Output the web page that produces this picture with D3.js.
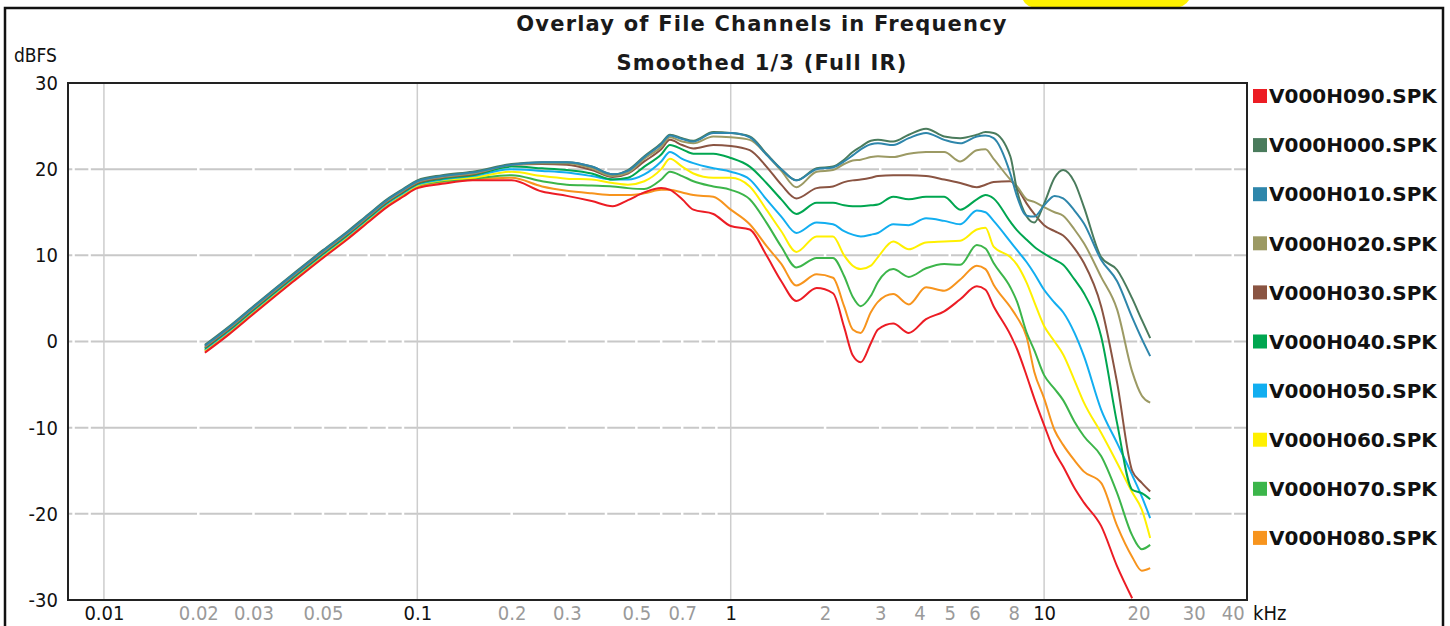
<!DOCTYPE html>
<html><head><meta charset="utf-8">
<script src="https://cdn.jsdelivr.net/npm/d3@7"></script>
<style>
html,body{margin:0;padding:0;background:#fff;}
svg{display:block;}
.narrow{font-family:"Liberation Sans Narrow","Arial Narrow","DejaVu Sans Condensed",sans-serif;}
.boldtxt{font-family:"DejaVu Sans",Verdana,sans-serif;font-weight:bold;}
</style></head><body>
<svg id="chart" width="1450" height="626"></svg>
<script>
// ---------- DATA ----------
const freqKHz = [0.021,0.025,0.03,0.035,0.04,0.05,0.06,0.07,0.08,0.09,
  0.1,0.12,0.15,0.2,0.25,0.3,0.36,0.42,0.47,0.53,
  0.6,0.64,0.7,0.76,0.88,1.0,1.15,1.3,1.45,1.62,
  1.88,2.12,2.3,2.45,2.6,2.8,2.95,3.3,3.7,4.2,
  4.8,5.4,6.1,6.5,6.9,7.8,8.2,8.8,9.3,10,
  10.8,11.5,12.5,13.4,15.2,17.1,19.1,20.5,21.8];

const seriesNames = ["V000H090.SPK","V000H000.SPK","V000H010.SPK","V000H020.SPK","V000H030.SPK",
  "V000H040.SPK","V000H050.SPK","V000H060.SPK","V000H070.SPK","V000H080.SPK"];
const seriesColors = ["#ec1c24","#4a7b5c","#2e86ab","#9c9a64","#8a5442",
  "#00a650","#12aef0","#fff000","#3cb54a","#f7941d"];

const h090 = [-1.3,0.8,3.2,5.2,6.9,9.7,11.9,13.9,15.6,16.8,
  17.8,18.3,18.7,18.7,17.4,16.9,16.3,15.7,16.4,17.3,
  17.8,17.6,16.5,15.3,14.8,13.4,13.0,10.0,7.0,4.7,
  6.2,5.6,1.7,-1.6,-2.4,-0.2,1.4,2.1,1.0,2.6,
  3.5,4.9,6.4,6.0,4.1,0.8,-0.9,-4.0,-6.6,-9.7,
  -12.8,-14.5,-17.0,-18.7,-21.4,-26.1,-29.8,null,null];
const h000 = [-0.4,1.7,4.1,6.1,7.8,10.6,12.8,14.8,16.5,17.7,
  18.7,19.3,19.7,20.6,20.8,20.8,20.3,19.4,19.9,21.5,
  23.0,24.0,23.6,23.3,24.3,24.2,23.8,21.8,20.0,18.7,
  20.1,20.3,21.1,22.0,22.6,23.3,23.4,23.2,24.0,24.7,
  23.8,23.6,24.0,24.3,24.2,21.5,17.5,14.5,13.8,16.0,
  19.0,19.9,18.5,15.6,9.8,8.3,5.0,2.5,0.4];
const h010 = [-0.5,1.6,4.0,6.0,7.7,10.5,12.7,14.7,16.4,17.6,
  18.6,19.2,19.6,20.5,20.8,20.8,20.3,19.4,19.8,21.4,
  22.9,23.9,23.5,23.2,24.2,24.2,23.7,21.7,20.0,18.7,
  20.0,20.2,20.9,21.6,22.3,22.9,23.0,22.8,23.6,24.2,
  23.4,23.0,23.8,23.9,23.6,19.5,16.8,14.6,14.5,15.8,
  16.9,16.6,15.2,13.7,9.5,7.0,2.8,0.3,-1.7];
const h020 = [-0.6,1.5,3.9,5.9,7.6,10.4,12.6,14.6,16.3,17.5,
  18.5,19.1,19.5,20.5,20.7,20.7,20.1,19.2,19.6,21.2,
  22.6,23.7,23.2,23.0,23.8,23.7,23.4,21.7,19.8,17.9,
  19.7,19.9,20.6,21.0,21.1,21.4,21.5,21.4,21.8,22.0,
  22.0,20.9,22.2,22.3,21.2,18.8,18.0,16.5,16.2,15.6,
  15.0,14.6,13.0,11.4,7.5,3.7,-3.5,-6.3,-7.1];
const h030 = [-0.7,1.4,3.8,5.8,7.5,10.3,12.5,14.5,16.2,17.4,
  18.4,19.0,19.4,20.5,20.6,20.5,19.9,19.1,19.5,20.9,
  22.3,23.4,22.8,22.4,22.8,22.7,22.2,20.3,18.2,16.6,
  17.8,18.0,18.5,18.7,18.8,19.0,19.2,19.3,19.3,19.2,
  18.8,18.4,17.9,18.2,18.5,18.6,17.8,16.0,14.8,13.5,
  12.8,12.3,10.8,9.1,4.1,-4.8,-15.0,-16.4,-17.4];
const h040 = [-0.8,1.3,3.7,5.7,7.4,10.2,12.4,14.4,16.1,17.3,
  18.3,18.9,19.3,20.3,20.1,19.9,19.5,18.8,19.0,20.3,
  21.7,22.8,22.3,21.8,21.8,21.3,20.3,18.4,16.5,14.8,
  16.1,16.1,15.8,15.7,15.7,15.8,15.9,16.8,16.5,16.8,
  16.8,15.3,16.5,17.0,16.6,13.9,12.9,11.8,11.0,10.2,
  9.5,8.9,7.2,5.6,0.6,-9.5,-17.2,-17.6,-18.3];
const h050 = [-0.9,1.2,3.6,5.6,7.3,10.1,12.3,14.3,16.0,17.2,
  18.2,18.8,19.2,20.0,19.8,19.6,19.2,18.8,18.8,19.4,
  20.9,22.0,21.2,20.7,20.1,19.7,18.8,16.5,14.5,12.6,
  13.8,13.6,12.8,12.4,12.2,12.4,12.6,13.6,13.5,14.3,
  14.0,13.6,15.2,15.0,14.0,11.6,10.6,9.2,7.9,6.0,
  4.5,3.4,1.0,-1.7,-7.9,-11.8,-15.5,-18.0,-20.5];
const h060 = [-1.0,1.1,3.5,5.5,7.2,10.0,12.2,14.2,15.9,17.1,
  18.1,18.7,19.0,19.7,19.2,18.9,18.8,18.4,18.2,18.6,
  20.0,21.2,20.3,19.5,19.0,19.0,18.0,15.3,12.8,10.4,
  12.2,12.2,10.0,8.8,8.4,8.8,9.8,11.6,10.7,11.5,
  11.6,11.7,13.0,13.2,11.0,9.8,8.9,6.8,4.6,1.8,
  0.0,-1.5,-4.5,-7.1,-10.6,-14.1,-17.5,-19.5,-22.8];
const h070 = [-1.0,1.1,3.5,5.5,7.2,10.0,12.2,14.2,15.9,17.1,
  18.1,18.6,18.9,19.3,18.6,18.2,18.1,18.0,17.8,17.7,
  18.8,19.7,19.2,18.6,18.0,17.6,16.5,13.8,11.0,8.6,
  9.7,9.7,7.6,5.2,4.1,5.3,6.9,8.4,7.5,8.5,
  9.0,8.9,11.2,10.8,9.1,6.3,4.6,1.0,-1.0,-3.9,
  -5.5,-6.8,-9.3,-11.0,-13.3,-17.6,-22.5,-24.1,-23.6];
const h080 = [-1.1,1.0,3.4,5.4,7.1,9.9,12.1,14.1,15.8,17.0,
  17.9,18.5,18.8,19.0,18.0,17.5,17.2,17.0,17.0,17.2,
  17.6,17.6,17.3,17.0,16.8,15.3,13.6,11.1,9.0,6.5,
  7.8,7.4,4.1,1.4,1.0,3.4,4.6,5.5,4.3,6.3,
  5.9,7.2,8.8,8.4,6.6,4.0,2.8,0.5,-3.5,-6.6,
  -10.3,-12.0,-13.8,-15.1,-16.4,-21.4,-25.0,-26.6,-26.3];

const seriesValues = [h090,h000,h010,h020,h030,h040,h050,h060,h070,h080];
const drawOrder = [9,8,7,6,5,4,3,1,2,0];

const majorTicks = [0.01,0.1,1,10];
const minorTicks = [0.02,0.03,0.05,0.2,0.3,0.5,0.7,2,3,4,5,6,8,20,30,40];
const yTicks = [-30,-20,-10,0,10,20,30];
const gridY = [-20,-10,0,10,20];
const titleText = "Overlay of File Channels in Frequency";
const subtitleText = "Smoothed 1/3 (Full IR)";

// ---------- CHART ----------
const svg = d3.select("#chart");
const L = 68, R = 1247, T = 83, B = 600;
const x = d3.scaleLog().domain([0.00768, 44.4]).range([L, R]);
const y = d3.scaleLinear().domain([-30, 30]).range([B, T]);

svg.append("rect").attr("width",1450).attr("height",626).attr("fill","#fff");

// yellow blob at top
svg.append("path")
  .attr("d","M1023,0 L1189,0 Q1185,7 1174,8 L1037,8 Q1026,7 1023,0 Z")
  .attr("fill","#fff200");

// outer frame
svg.append("rect").attr("x",5).attr("y",8).attr("width",1438).attr("height",640)
  .attr("fill","none").attr("stroke","#111").attr("stroke-width",2.5);

// clip
svg.append("clipPath").attr("id","plotclip").append("rect")
  .attr("x",L).attr("y",T).attr("width",R-L).attr("height",B-T);

const grid = svg.append("g");
grid.selectAll("line.h").data(gridY).join("line")
  .attr("x1",L).attr("x2",R).attr("y1",d=>y(d)).attr("y2",d=>y(d))
  .attr("stroke","#c8c8c8").attr("stroke-width",2);
// minor positions break the horizontal grid
const minorPos = x.ticks().filter(d => Math.abs(Math.log10(d) - Math.round(Math.log10(d))) > 1e-6);
grid.selectAll("line.m").data(minorPos).join("line")
  .attr("x1",d=>x(d)).attr("x2",d=>x(d)).attr("y1",T).attr("y2",B)
  .attr("stroke","#fff").attr("stroke-width",2.5);
grid.selectAll("line.v").data(majorTicks).join("line")
  .attr("x1",d=>x(d)).attr("x2",d=>x(d)).attr("y1",T).attr("y2",B)
  .attr("stroke","#cdcdcd").attr("stroke-width",1.5);

// curves
const line = d3.line()
  .defined(d => d[1] !== null)
  .x(d => x(d[0])).y(d => y(d[1]))
  .curve(d3.curveMonotoneX);
const curves = svg.append("g").attr("clip-path","url(#plotclip)");
drawOrder.forEach(i => {
  curves.append("path")
    .datum(freqKHz.map((f,k) => [f, seriesValues[i][k]]))
    .attr("d", line)
    .attr("fill","none")
    .attr("stroke", seriesColors[i])
    .attr("stroke-width", 2)
    .attr("stroke-linejoin","round");
});

// plot frame
svg.append("rect").attr("x",L).attr("y",T).attr("width",R-L).attr("height",B-T)
  .attr("fill","none").attr("stroke","#222").attr("stroke-width",2);

// axes
const fmt = d => String(d);
const xAxis = svg.append("g").attr("transform",`translate(0,${B})`)
  .call(d3.axisBottom(x).tickValues(majorTicks.concat(minorTicks)).tickSize(0).tickPadding(6).tickFormat(fmt));
xAxis.select(".domain").remove();
xAxis.selectAll("text").attr("class","narrow").attr("font-size",20)
  .attr("fill", d => majorTicks.includes(d) ? "#111" : "#9a9a9a");

const yAxis = svg.append("g").attr("transform",`translate(${L},0)`)
  .call(d3.axisLeft(y).tickValues(yTicks).tickSize(0).tickPadding(10).tickFormat(fmt));
yAxis.select(".domain").remove();
yAxis.selectAll("text").attr("class","narrow").attr("font-size",20).attr("fill","#111");

svg.append("text").attr("class","narrow").attr("x",1253).attr("y",620)
  .attr("font-size",20).attr("fill","#111").text("kHz");
svg.append("text").attr("class","narrow").attr("x",14).attr("y",62)
  .attr("font-size",19).attr("fill","#111").text("dBFS");

// titles
svg.append("text").attr("class","boldtxt").attr("x",762).attr("y",31)
  .attr("text-anchor","middle").attr("font-size",21).attr("letter-spacing",1.2)
  .attr("fill","#1a1a1a").text(titleText);
svg.append("text").attr("class","boldtxt").attr("x",762).attr("y",70)
  .attr("text-anchor","middle").attr("font-size",21).attr("letter-spacing",1.2)
  .attr("fill","#1a1a1a").text(subtitleText);

// legend
const leg = svg.append("g");
seriesNames.forEach((n,i) => {
  const cy = 96 + i*49.1;
  leg.append("rect").attr("x",1253).attr("y",cy-7).attr("width",14).attr("height",14)
    .attr("fill",seriesColors[i]);
  leg.append("text").attr("class","boldtxt").attr("x",1269).attr("y",cy).attr("dy","0.36em")
    .attr("font-size",20).attr("fill","#111").text(n);
});
</script>
</body></html>
